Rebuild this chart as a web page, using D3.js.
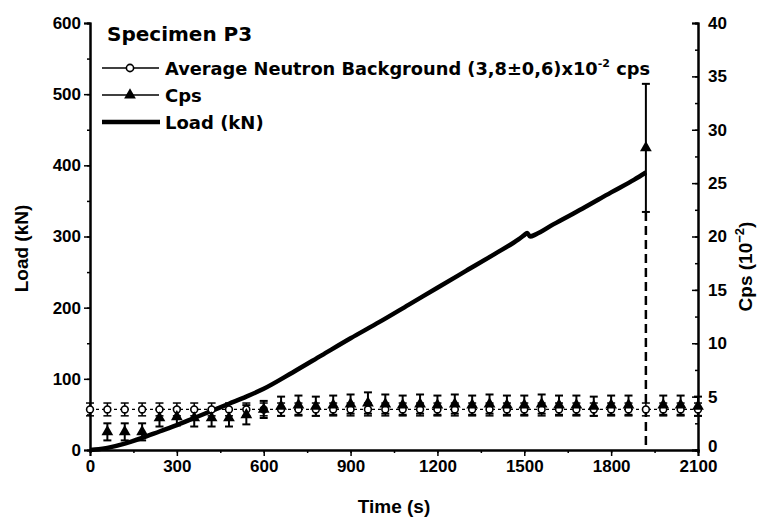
<!DOCTYPE html>
<html>
<head>
<meta charset="utf-8">
<script src="https://cdn.jsdelivr.net/npm/d3@7"></script>
<style>
  body { margin: 0; background: #fff; }
  svg { font-family: "Liberation Sans", Arial, sans-serif; font-weight: bold; }
</style>
</head>
<body>
<svg id="chart" width="767" height="519"></svg>
<script>
// Load curve (time s, load kN)
const loadTime = [0, 30, 60, 120, 180, 240, 300, 360, 420, 480, 540, 600, 700, 800, 900, 1000, 1100, 1200, 1300, 1400, 1480, 1500, 1510, 1520, 1540, 1600, 1700, 1800, 1880, 1920];
const loadValue = [0, 1, 3, 9, 17, 26, 35, 45, 55, 65, 75, 86, 109, 133, 157, 180, 204, 228, 252, 276, 296, 302, 305, 300, 303, 317, 339, 362, 380, 390];

// Average neutron background (10^-2 cps)
const bgTime = d3.range(0, 2101, 60);
const bgValue = bgTime.map(() => 3.8);
const bgError = bgTime.map(() => 0.6);

// Cps measurements (10^-2 cps)
const cpsTime = d3.range(60, 2101, 60);
const cpsValue = [1.7, 1.7, 1.7, 3.0, 3.1, 3.0, 3.0, 3.0, 3.3, 3.8, 4.1, 4.2, 4.1, 4.2, 4.3, 4.4, 4.3, 4.2, 4.3, 4.2, 4.3, 4.2, 4.3, 4.2, 4.2, 4.3, 4.2, 4.2, 4.1, 4.2, 4.2, 28.3, 4.2, 4.2, 4.1];
const cpsError = [0.8, 0.8, 0.8, 0.8, 0.8, 0.8, 0.8, 0.8, 0.9, 0.8, 0.9, 0.9, 0.9, 0.9, 0.9, 1.0, 0.9, 0.9, 0.9, 0.9, 0.9, 0.9, 0.9, 0.9, 0.9, 0.9, 0.9, 0.9, 0.9, 0.9, 0.9, 6.0, 0.9, 0.9, 0.9];

const xTicks = [0, 300, 600, 900, 1200, 1500, 1800, 2100];
const loadTicks = [0, 100, 200, 300, 400, 500, 600];
const cpsTicks = [0, 5, 10, 15, 20, 25, 30, 35, 40];

const svg = d3.select("#chart");
const margin = { top: 23, right: 69, bottom: 69, left: 90 };
const width = 767 - margin.left - margin.right;
const height = 519 - margin.top - margin.bottom;

const x = d3.scaleLinear().domain([0, 2100]).range([margin.left, margin.left + width]);
const yLoad = d3.scaleLinear().domain([0, 600]).range([margin.top + height, margin.top]);
const yCps = d3.scaleLinear().domain([0, 40]).range([margin.top + height, margin.top]);

// Axes
const xAxis = svg.append("g").attr("transform", `translate(0,${margin.top + height})`);
xAxis.call(d3.axisBottom(x).tickValues(d3.range(0, 2101, 150)).tickSize(3).tickFormat(""));
xAxis.call(g => g.append("g").call(d3.axisBottom(x).tickValues(xTicks).tickSize(6).tickPadding(4).tickFormat(d3.format("d"))));

const yAxisL = svg.append("g").attr("transform", `translate(${margin.left},0)`);
yAxisL.call(d3.axisLeft(yLoad).tickValues(d3.range(0, 601, 50)).tickSize(3).tickFormat(""));
yAxisL.call(g => g.append("g").call(d3.axisLeft(yLoad).tickValues(loadTicks).tickSize(6).tickPadding(3).tickFormat(d3.format("d"))));

const yAxisR = svg.append("g").attr("transform", `translate(${margin.left + width},0)`);
yAxisR.call(d3.axisRight(yCps).tickValues(d3.range(0, 40.1, 2.5)).tickSize(-3).tickFormat(""));
yAxisR.call(g => g.append("g").call(d3.axisRight(yCps).tickValues(cpsTicks).tickSize(-6).tickPadding(10).tickFormat(d3.format("d"))));

svg.selectAll(".domain").attr("stroke", "#000").attr("stroke-width", 2);
svg.selectAll(".tick line").attr("stroke", "#000").attr("stroke-width", 1.5);
svg.selectAll(".tick text").attr("fill", "#000").style("font-size", "17px").style("font-weight", "bold")
  .style("font-family", "'Liberation Sans', Arial, sans-serif");
// lift the right-hand "0" a little so it clears the "2100" below it
yAxisR.selectAll(".tick text").filter(d => d === 0).attr("dy", "0.1em");

// Axis titles
svg.append("text").attr("transform", `translate(28,${margin.top + height / 2 + 12}) rotate(-90)`)
  .attr("text-anchor", "middle").style("font-size", "19px").text("Load (kN)");
svg.append("text").attr("x", margin.left + width / 2).attr("y", 513)
  .attr("text-anchor", "middle").style("font-size", "19px").text("Time (s)");
const rt = svg.append("text").attr("transform", `translate(752,${margin.top + height / 2 + 30}) rotate(-90)`)
  .attr("text-anchor", "middle").style("font-size", "19px");
rt.append("tspan").text("Cps (10");
rt.append("tspan").attr("dy", -8).style("font-size", "13px").text("−2");
rt.append("tspan").attr("dy", 8).text(")");

// Series data
const bgData = bgTime.map((t, i) => ({ t, v: bgValue[i], e: bgError[i] }));
const cpsData = cpsTime.map((t, i) => ({ t, v: cpsValue[i], e: cpsError[i] }));

const cap = 4;
function errorBars(data, cls, sw) {
  const g = svg.append("g").attr("class", cls).attr("stroke", "#000").attr("stroke-width", sw);
  g.selectAll("line.v").data(data).join("line")
    .attr("x1", d => x(d.t)).attr("x2", d => x(d.t))
    .attr("y1", d => yCps(d.v - d.e)).attr("y2", d => yCps(d.v + d.e));
  g.selectAll("line.top").data(data).join("line")
    .attr("x1", d => x(d.t) - cap).attr("x2", d => x(d.t) + cap)
    .attr("y1", d => yCps(d.v + d.e)).attr("y2", d => yCps(d.v + d.e));
  g.selectAll("line.bot").data(data).join("line")
    .attr("x1", d => x(d.t) - cap).attr("x2", d => x(d.t) + cap)
    .attr("y1", d => yCps(d.v - d.e)).attr("y2", d => yCps(d.v - d.e));
}

// dashed connecting line of the background
svg.append("path").datum(bgData).attr("fill", "none").attr("stroke", "#000").attr("stroke-width", 1.2)
  .attr("stroke-dasharray", "3,3").attr("d", d3.line().x(d => x(d.t)).y(d => yCps(d.v)));

errorBars(bgData, "bg-err", 1.5);
errorBars(cpsData, "cps-err", 2);

// drop line under the peak
const peak = cpsData[d3.maxIndex(cpsData, d => d.v)];
svg.append("line").attr("x1", x(peak.t)).attr("x2", x(peak.t))
  .attr("y1", yCps(peak.v - peak.e)).attr("y2", yCps(0))
  .attr("stroke", "#000").attr("stroke-width", 2.5).attr("stroke-dasharray", "9,5");

// Load line
const loadData = loadTime.map((t, i) => ({ t, v: loadValue[i] }));
svg.append("path").datum(loadData).attr("fill", "none").attr("stroke", "#000").attr("stroke-width", 4.5)
  .attr("stroke-linejoin", "round")
  .attr("d", d3.line().x(d => x(d.t)).y(d => yLoad(d.v)).curve(d3.curveMonotoneX));

// markers
svg.append("g").selectAll("circle").data(bgData).join("circle")
  .attr("cx", d => x(d.t)).attr("cy", d => yCps(d.v)).attr("r", 3.4)
  .attr("fill", "#fff").attr("stroke", "#000").attr("stroke-width", 1.6);

const tri = d3.symbol().type(d3.symbolTriangle).size(60);
svg.append("g").selectAll("path").data(cpsData).join("path")
  .attr("transform", d => `translate(${x(d.t)},${yCps(d.v)})`).attr("d", tri).attr("fill", "#000");

// Legend
const lg = svg.append("g").style("font-family", "'DejaVu Sans', sans-serif");
lg.append("text").attr("x", 107).attr("y", 41).style("font-size", "20px").text("Specimen P3");
const ly = [68, 95, 122];
lg.append("line").attr("x1", 102).attr("x2", 159).attr("y1", ly[0]).attr("y2", ly[0]).attr("stroke", "#000").attr("stroke-width", 1.5);
lg.append("circle").attr("cx", 130).attr("cy", ly[0]).attr("r", 3.6).attr("fill", "#fff").attr("stroke", "#000").attr("stroke-width", 1.6);
lg.append("line").attr("x1", 102).attr("x2", 159).attr("y1", ly[1]).attr("y2", ly[1]).attr("stroke", "#000").attr("stroke-width", 1.5);
lg.append("path").attr("transform", `translate(130,${ly[1]})`).attr("d", tri).attr("fill", "#000");
lg.append("line").attr("x1", 102).attr("x2", 160).attr("y1", ly[2]).attr("y2", ly[2]).attr("stroke", "#000").attr("stroke-width", 4.5);

const t1 = lg.append("text").attr("x", 165).attr("y", ly[0] + 7).style("font-size", "17.8px");
t1.append("tspan").text("Average Neutron Background (3,8±0,6)x10");
t1.append("tspan").attr("dy", -8).style("font-size", "11px").text("-2");
t1.append("tspan").attr("dy", 8).text(" cps");
lg.append("text").attr("x", 165).attr("y", ly[1] + 7).style("font-size", "18px").text("Cps");
lg.append("text").attr("x", 165).attr("y", ly[2] + 7).style("font-size", "18px").text("Load (kN)");
</script>
</body>
</html>
